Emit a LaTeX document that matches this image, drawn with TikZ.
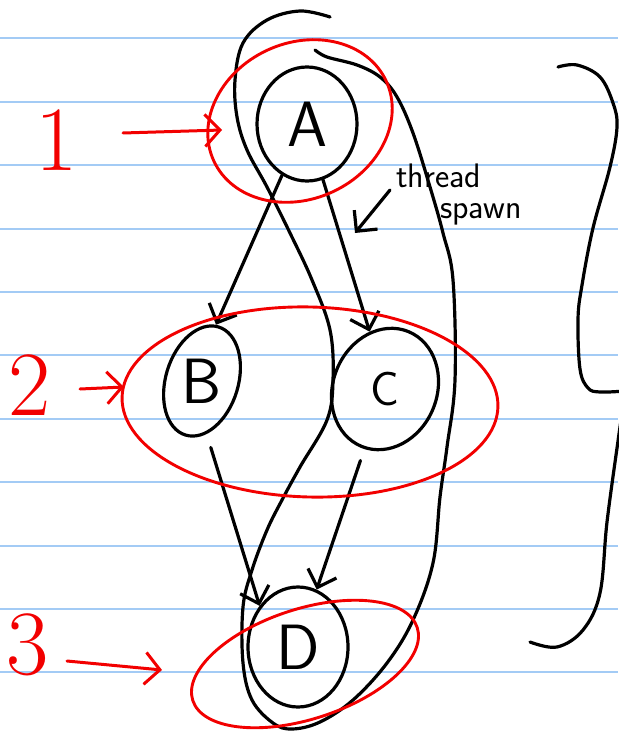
\documentclass[tikz,border=0pt]{standalone}
\usepackage{fontspec}
\usetikzlibrary{shapes.geometric,arrows.meta}
\definecolor{ruled}{HTML}{A3CBF5}
\definecolor{pen}{HTML}{F20000}
\begin{document}
\begin{tikzpicture}[x=1pt,y=-1pt,
  inkline/.style={line width=3.2pt, line cap=round, line join=round},
  state/.style={ellipse, draw, inkline, inner sep=0pt, font=\fontsize{64}{64}\selectfont\sffamily},
  grp/.style={ellipse, draw=pen, line width=2.9pt, inner sep=0pt},
  edge/.style={inkline, -{Straight Barb[length=15pt,width=30pt,line width=3.2pt]}},
  redarrow/.style={draw=pen, line width=3pt, line cap=round, -{Straight Barb[length=15pt,width=32pt,line width=3pt]}},
  num/.style={text=pen, inner sep=0pt, font=\fontsize{92}{92}\selectfont},
  note/.style={inner sep=0pt, anchor=west, font=\fontsize{34}{34}\selectfont\sffamily}]
\fill[white] (0,0) rectangle (618,735);
\useasboundingbox (0,0) rectangle (618,735);
% ruled paper
\foreach \k in {0,...,11}
  \draw[ruled, line width=2pt] (0,{38.3+63.4*\k}) -- (618,{38.3+63.4*\k});
% nodes
\node[state, minimum width=100pt, minimum height=114pt] (A) at (307,124) {A};
\node[state, minimum width=62pt, minimum height=113pt, rotate=-17] (B) at (202,381) {\rotatebox{17}{B}};
\node[state, minimum width=104pt, minimum height=124pt, rotate=-22] (C) at (385,389) {\rotatebox{22}{\fontsize{48}{48}\selectfont C}};
\node[state, minimum width=100pt, minimum height=120pt] (D) at (298,647) {D};
% edges
\draw[edge] (A.-116) -- (B.93);
\draw[edge] (A.-74) -- (C.127);
\draw[edge, shorten <=14pt] (B.-68) -- (D.133);
\draw[edge, shorten <=12pt] (C.-87) -- (D.72);
% thread loop
\draw[inkline] plot[smooth, tension=0.6] coordinates {
 (330,17) (300,11) (267,20) (243,43) (235,80) (237,117) (247,150) (267,187)
 (290,233) (312,280) (330,330) (333,380) (327,420) (300,467) (282,500)
 (267,530) (252,570) (243,607) (243,663) (252,700) (273,723) (292,729)
 (320,722) (353,700) (387,663) (413,620) (433,563) (440,497) (447,447)
 (455,380) (453,280) (443,233) (430,187) (413,133) (397,97) (380,77)
 (357,65) (327,57) (315,50)};
% thread spawn label
\node[note] (t1) at (396,176) {thread};
\node[note] (t2) at (440,214) {spawn};
\coordinate (tsa) at (390,190);
\coordinate (tsb) at (355,233);
\draw[edge] (tsa) -- (tsb);
% groups
\node[grp, minimum width=190pt, minimum height=156pt, rotate=25] (g1) at (300,121) {};
\node[grp, minimum width=376pt, minimum height=190pt, rotate=-1.5] (g2) at (310,402) {};
\node[grp, minimum width=236pt, minimum height=110pt, rotate=18] (g3) at (305,664) {};
% numbers
\node[num] (n1) at (57,140) {1};
\node[num] (n2) at (30,385) {2};
\node[num] (n3) at (28,645) {3};
\coordinate (r1s) at (123,133); \coordinate (r1e) at (222,130);
\coordinate (r2s) at (80,389);  \coordinate (r2e) at (124,387);
\coordinate (r3s) at (67,661);  \coordinate (r3e) at (162,670);
\draw[redarrow] (r1s) -- (r1e);
\draw[redarrow] (r2s) -- (r2e);
\draw[redarrow] (r3s) -- (r3e);
% brace
\draw[inkline] plot[smooth, tension=0.6] coordinates {
 (558,67) (577,65) (600,77) (613,103) (617,127) (610,167) (593,228)
 (582,285) (578,319) (580,369) (588,388) (600,392) (625,391)};
\draw[inkline] plot[smooth, tension=0.6] coordinates {
 (624,400) (618,441) (607,522) (600,593) (583,630) (557,647) (530,642)};
\end{tikzpicture}
\end{document}
